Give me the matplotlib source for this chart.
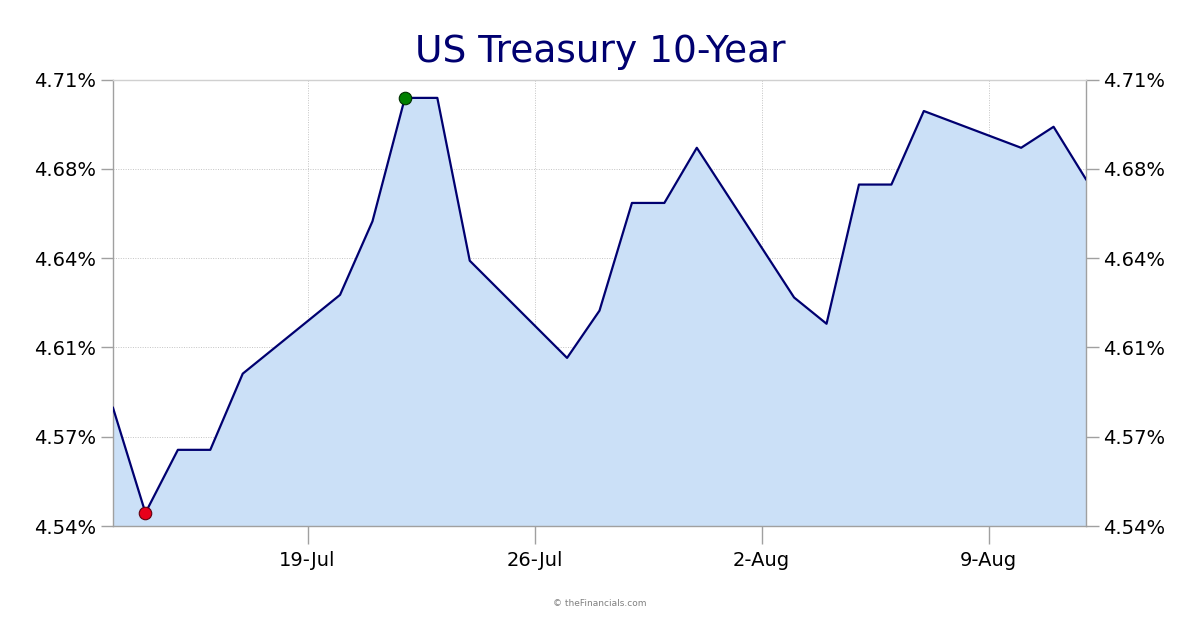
import numpy as np
import pandas as pd
import matplotlib
matplotlib.use("Agg")
import matplotlib.pyplot as plt
import matplotlib.dates as mdates
from matplotlib.ticker import FixedLocator, FuncFormatter

# data
dates = pd.to_datetime([
    "2023-07-13", "2023-07-14", "2023-07-15", "2023-07-16", "2023-07-17",
    "2023-07-20", "2023-07-21", "2023-07-22", "2023-07-23", "2023-07-24",
    "2023-07-27", "2023-07-28", "2023-07-29", "2023-07-30", "2023-07-31",
    "2023-08-03", "2023-08-04", "2023-08-05", "2023-08-06", "2023-08-07",
    "2023-08-10", "2023-08-11", "2023-08-12",
])
yields = [
    4.585, 4.545, 4.569, 4.569, 4.598,
    4.628, 4.656, 4.703, 4.703, 4.641,
    4.604, 4.622, 4.663, 4.663, 4.684,
    4.627, 4.617, 4.670, 4.670, 4.698,
    4.684, 4.692, 4.672,
]
y_min, y_max = 4.54, 4.71
x_ticks = pd.to_datetime(["2023-07-19", "2023-07-26", "2023-08-02", "2023-08-09"])

title = "US Treasury 10-Year"
credit = "\u00a9 theFinancials.com"

navy = "#000070"
grid_col = "#c4c4c4"
axis_col = "#a0a0a0"

fig = plt.figure(figsize=(12, 6.3), dpi=100)
ax = fig.add_axes([113 / 1200, 1 - 526 / 630, (1086 - 113) / 1200, (526 - 79.5) / 630])

ax.fill_between(dates, yields, y_min, color="#cbe0f7", zorder=1, linewidth=0)
ax.plot(dates, yields, color=navy, lw=1.6, zorder=3)

lo = int(np.argmin(yields))
hi = int(np.argmax(yields))
ax.plot(dates[lo], yields[lo], "o", ms=9, mfc="#e8001a", mec="#600010", mew=0.8, zorder=4)
ax.plot(dates[hi], yields[hi], "o", ms=9, mfc="#008000", mec="#003000", mew=0.8, zorder=4)

ax.set_xlim(dates[0], dates[-1])
ax.set_ylim(y_min, y_max)

yt = np.linspace(y_min, y_max, 6)
ax.yaxis.set_major_locator(FixedLocator(yt))
ax.yaxis.set_major_formatter(FuncFormatter(lambda v, p: f"{v:.2f}%"))
ax.xaxis.set_major_locator(FixedLocator(mdates.date2num(x_ticks)))
ax.xaxis.set_major_formatter(mdates.DateFormatter("%-d-%b"))

ax.tick_params(axis="y", which="both", left=True, right=True, labelleft=True, labelright=True,
               length=9, width=1, color=axis_col, labelsize=14, pad=3)
ax.tick_params(axis="x", length=13, width=1, color=axis_col, labelsize=14, pad=5)

ax.grid(True, color=grid_col, linestyle=(0, (1, 1.5)), linewidth=0.7, zorder=0)
ax.set_axisbelow(True)

for side in ["left", "right", "bottom"]:
    ax.spines[side].set_color(axis_col)
    ax.spines[side].set_linewidth(1)
ax.spines["top"].set_color("#d0d0d0")
ax.spines["top"].set_linewidth(1)

fig.text(0.5, 1 - 52 / 630, title, ha="center", va="center", fontsize=27, color=navy)
fig.text(0.5, 1 - 604 / 630, credit, ha="center", va="center", fontsize=6.5, color="#808080")

fig.savefig("out.png", dpi=100, facecolor="white")
